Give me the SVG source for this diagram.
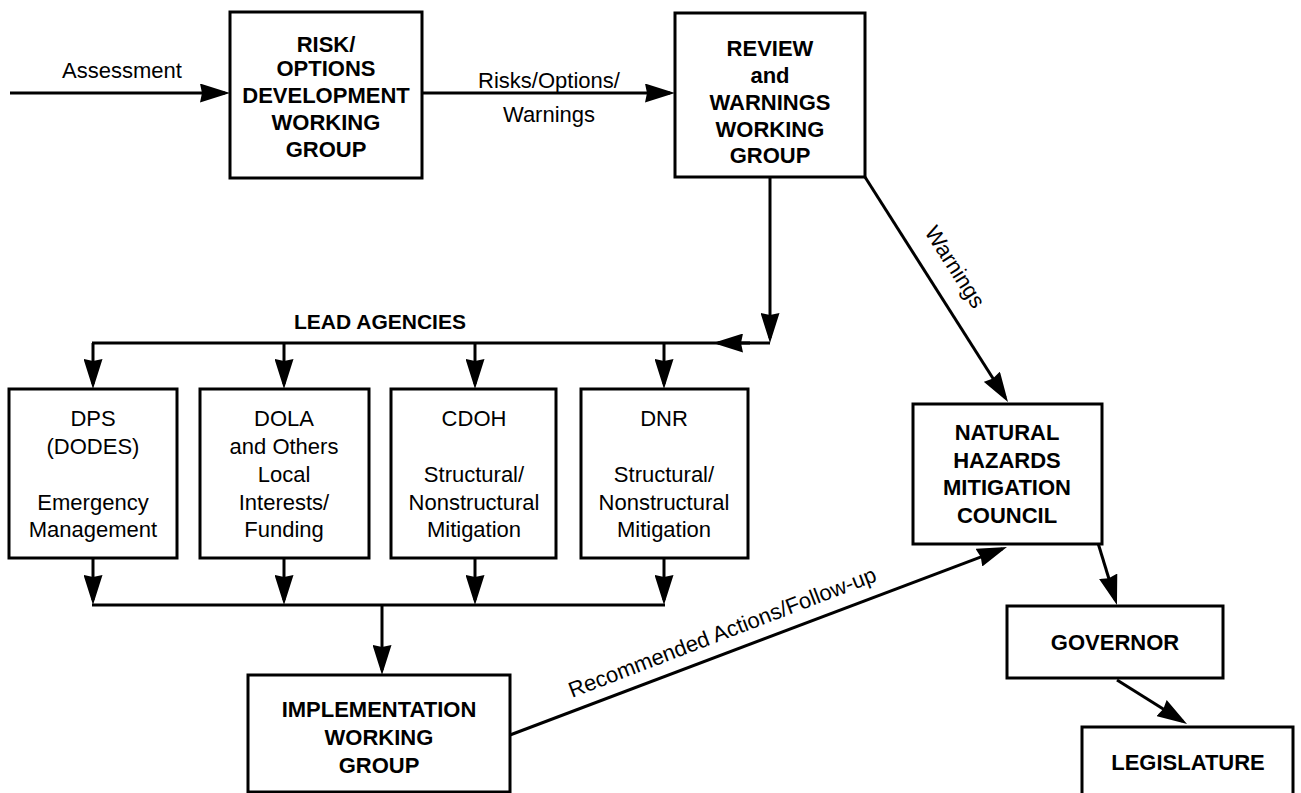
<svg xmlns="http://www.w3.org/2000/svg" width="1301" height="793" viewBox="0 0 1301 793">
<style>
  .box { fill: #fff; stroke: #000; stroke-width: 3; }
  .ln { fill: none; stroke: #000; stroke-width: 3; }
  .arr { marker-end: url(#ah); }
  text { font-family: "Liberation Sans", Arial, Helvetica, sans-serif; font-size: 22px; fill: #000; }
  .b { font-weight: bold; text-anchor: middle; }
  .r { text-anchor: middle; }
  .lbl { font-weight: normal; }
</style>
<defs>
  <marker id="ah" markerUnits="userSpaceOnUse" markerWidth="30" markerHeight="19" viewBox="0 0 30 19" refX="25" refY="9.5" orient="auto">
    <path d="M0,0 L30,9.5 L0,19 L2,9.5 z" fill="#000"/>
  </marker>
</defs>
<rect width="1301" height="793" fill="#fff"/>

<g id="connectors">
  <path class="ln arr" d="M10,93 H225"/>
  <text class="r" x="122" y="78">Assessment</text>
  <path class="ln arr" d="M422,93 H670"/>
  <text class="r" x="549" y="88">Risks/Options/</text>
  <text class="r" x="549" y="122">Warnings</text>
  <path class="ln arr" d="M770,177 V338"/>
  <path class="ln" d="M92,343 H770"/>
  <path class="ln arr" d="M750,343 H718"/>
  <text class="b" x="380" y="329" style="font-size:21px">LEAD AGENCIES</text>
  <path class="ln arr" d="M93,343 V384"/>
  <path class="ln arr" d="M284,343 V384"/>
  <path class="ln arr" d="M475,343 V384"/>
  <path class="ln arr" d="M664,343 V384"/>
  <path class="ln arr" d="M93,558 V600"/>
  <path class="ln arr" d="M284,558 V600"/>
  <path class="ln arr" d="M475,558 V600"/>
  <path class="ln arr" d="M664,558 V600"/>
  <path class="ln" d="M92,605 H665"/>
  <path class="ln arr" d="M382,605 V670"/>
  <path class="ln arr" d="M510,735 L1002.3,548.8"/>
  <text class="lbl" transform="translate(572,698) rotate(-21)">Recommended Actions/Follow-up</text>
  <path class="ln arr" d="M865,177 L1005.3,397.8"/>
  <text class="lbl" transform="translate(924,232) rotate(57.5)">Warnings</text>
  <path class="ln arr" d="M1098,543 L1115.5,600.2"/>
  <path class="ln arr" d="M1117,680 L1182.8,721.3"/>
</g>

<g id="risk-options">
  <rect class="box" x="230" y="12" width="192" height="166"/>
  <text class="b" x="326" y="52">RISK/</text>
  <text class="b" x="326" y="76">OPTIONS</text>
  <text class="b" x="326" y="103">DEVELOPMENT</text>
  <text class="b" x="326" y="130">WORKING</text>
  <text class="b" x="326" y="157">GROUP</text>
</g>

<g id="review-warnings">
  <rect class="box" x="675" y="13" width="190" height="164"/>
  <text class="b" x="770" y="56">REVIEW</text>
  <text class="b" x="770" y="83">and</text>
  <text class="b" x="770" y="110">WARNINGS</text>
  <text class="b" x="770" y="137">WORKING</text>
  <text class="b" x="770" y="163">GROUP</text>
</g>

<g id="dps">
  <rect class="box" x="9" y="389" width="168" height="169"/>
  <text class="r" x="93" y="426">DPS</text>
  <text class="r" x="93" y="454">(DODES)</text>
  <text class="r" x="93" y="510">Emergency</text>
  <text class="r" x="93" y="537">Management</text>
</g>

<g id="dola">
  <rect class="box" x="200" y="389" width="169" height="169"/>
  <text class="r" x="284" y="426">DOLA</text>
  <text class="r" x="284" y="454">and Others</text>
  <text class="r" x="284" y="482">Local</text>
  <text class="r" x="284" y="510">Interests/</text>
  <text class="r" x="284" y="537">Funding</text>
</g>

<g id="cdoh">
  <rect class="box" x="391" y="389" width="165" height="169"/>
  <text class="r" x="474" y="426">CDOH</text>
  <text class="r" x="474" y="482">Structural/</text>
  <text class="r" x="474" y="510">Nonstructural</text>
  <text class="r" x="474" y="537">Mitigation</text>
</g>

<g id="dnr">
  <rect class="box" x="581" y="389" width="167" height="169"/>
  <text class="r" x="664" y="426">DNR</text>
  <text class="r" x="664" y="482">Structural/</text>
  <text class="r" x="664" y="510">Nonstructural</text>
  <text class="r" x="664" y="537">Mitigation</text>
</g>

<g id="implementation">
  <rect class="box" x="248" y="675" width="262" height="117"/>
  <text class="b" x="379" y="717">IMPLEMENTATION</text>
  <text class="b" x="379" y="745">WORKING</text>
  <text class="b" x="379" y="773">GROUP</text>
</g>

<g id="nhmc">
  <rect class="box" x="913" y="404" width="189" height="140"/>
  <text class="b" x="1007" y="440">NATURAL</text>
  <text class="b" x="1007" y="468">HAZARDS</text>
  <text class="b" x="1007" y="495">MITIGATION</text>
  <text class="b" x="1007" y="523">COUNCIL</text>
</g>

<g id="governor">
  <rect class="box" x="1007" y="606" width="216" height="72"/>
  <text class="b" x="1115" y="650">GOVERNOR</text>
</g>

<g id="legislature">
  <rect class="box" x="1082" y="727" width="211" height="80"/>
  <text class="b" x="1188" y="770">LEGISLATURE</text>
</g>
</svg>
